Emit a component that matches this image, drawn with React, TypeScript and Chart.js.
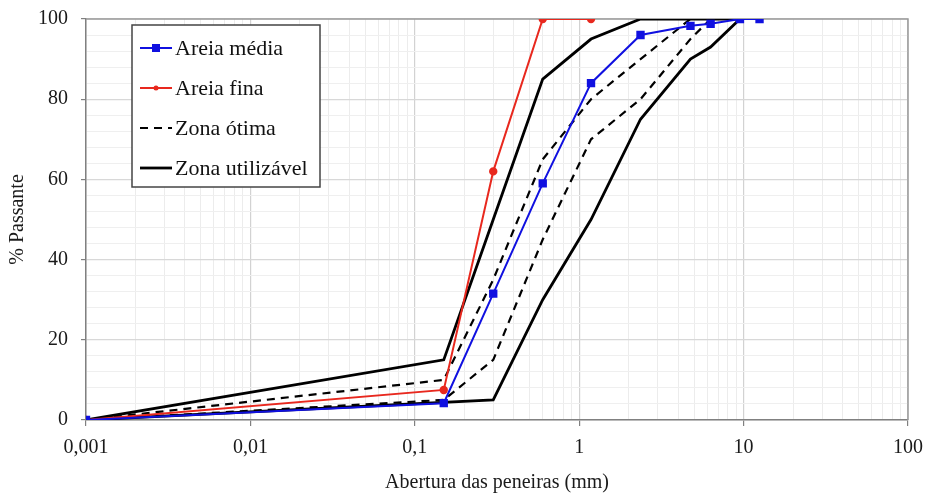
import React, { useEffect, useRef } from "react";
import { Chart, registerables } from "chart.js";

Chart.register(...registerables);

// ---- data ----
const mediaSieves = [0.001, 0.15, 0.3, 0.6, 1.18, 2.36, 4.75, 6.3, 9.5, 12.5];
const mediaPassing = [0, 4.2, 31.5, 59, 84, 96, 98.3, 98.8, 100, 100];

const finaSieves = [0.001, 0.15, 0.3, 0.6, 1.18];
const finaPassing = [0, 7.5, 62, 100, 100];

const zoneSieves = [0.001, 0.15, 0.3, 0.6, 1.18, 2.36, 4.75, 6.3, 9.5];
const otimaUpper = [0, 10, 35, 65, 80, 90, 100, 100, 100];
const otimaLower = [0, 5, 15, 45, 70, 80, 95, 100, 100];
const utilUpper = [0, 15, 50, 85, 95, 100, 100, 100, 100];
const utilLowerSieves = [0.001, 0.3, 0.6, 1.18, 2.36, 4.75, 6.3, 9.5];
const utilLower = [0, 5, 30, 50, 75, 90, 93, 100];

const xTickValues = [0.001, 0.01, 0.1, 1, 10, 100];
const xTickLabels = ["0,001", "0,01", "0,1", "1", "10", "100"];
const yMajorTicks = [0, 20, 40, 60, 80, 100];

const legendLabels = ["Areia média", "Areia fina", "Zona ótima", "Zona utilizável"];

const FONT = "'Liberation Serif', 'Times New Roman', serif";

const pts = (xs: number[], ys: number[]) => xs.map((x, i) => ({ x, y: ys[i] }));

const isMajorX = (v: number) => xTickValues.some((t) => Math.abs(v - t) / t < 1e-9);

const frameAndLegend = {
  id: "frameAndLegend",
  beforeDatasetsDraw(chart: any) {
    const { ctx, chartArea } = chart;
    ctx.save();
    ctx.strokeStyle = "#9a9a9a";
    ctx.lineWidth = 1.5;
    ctx.beginPath();
    ctx.moveTo(chartArea.left, chartArea.top);
    ctx.lineTo(chartArea.right, chartArea.top);
    ctx.lineTo(chartArea.right, chartArea.bottom);
    ctx.stroke();
    ctx.restore();
  },
  afterDatasetsDraw(chart: any) {
    const { ctx, chartArea } = chart;
    const bx = chartArea.left + 46;
    const by = chartArea.top + 6;
    const bw = 188;
    const bh = 162;
    ctx.save();
    ctx.fillStyle = "#ffffff";
    ctx.fillRect(bx, by, bw, bh);
    ctx.strokeStyle = "#444444";
    ctx.lineWidth = 1.5;
    ctx.strokeRect(bx, by, bw, bh);
    const items = chart.data.datasets;
    const order = [0, 1, 2, 4];
    ctx.font = `22px ${FONT}`;
    ctx.textBaseline = "middle";
    order.forEach((di: number, i: number) => {
      const ds = items[di];
      const cy = by + 23 + i * 40;
      const x0 = bx + 8;
      const x1 = bx + 40;
      ctx.save();
      ctx.strokeStyle = ds.borderColor;
      ctx.lineWidth = ds.borderWidth;
      ctx.setLineDash(ds.borderDash || []);
      ctx.beginPath();
      ctx.moveTo(x0, cy);
      ctx.lineTo(x1, cy);
      ctx.stroke();
      ctx.restore();
      const mx = (x0 + x1) / 2;
      if (ds.pointStyle === "rect" && ds.pointRadius > 0) {
        ctx.fillStyle = ds.pointBackgroundColor;
        ctx.fillRect(mx - 4, cy - 4, 8, 8);
      } else if (ds.pointRadius > 0) {
        ctx.fillStyle = ds.pointBackgroundColor;
        ctx.beginPath();
        ctx.arc(mx, cy, 2.5, 0, Math.PI * 2);
        ctx.fill();
      }
      ctx.fillStyle = "#111111";
      ctx.fillText(legendLabels[i], x1 + 3, cy + 1);
    });
    ctx.restore();
  },
};

export default function App() {
  const ref = useRef<HTMLCanvasElement | null>(null);

  useEffect(() => {
    if (!ref.current) return;
    const blackLine = (data: any[], dashed: boolean) => ({
      data,
      borderColor: "#000000",
      backgroundColor: "#000000",
      borderWidth: dashed ? 2.2 : 2.8,
      borderDash: dashed ? [8, 6] : [],
      pointRadius: 0,
      pointHoverRadius: 0,
      tension: 0,
      fill: false,
    });

    const chart = new Chart(ref.current, {
      type: "line",
      data: {
        datasets: [
          {
            label: legendLabels[0],
            data: pts(mediaSieves, mediaPassing),
            borderColor: "#1010e0",
            backgroundColor: "#1010e0",
            pointBackgroundColor: "#1010e0",
            pointBorderColor: "#1010e0",
            pointStyle: "rect",
            pointRadius: 4.5,
            borderWidth: 2,
            order: 0,
          } as any,
          {
            label: legendLabels[1],
            data: pts(finaSieves, finaPassing),
            borderColor: "#e8281e",
            backgroundColor: "#e8281e",
            pointBackgroundColor: "#e8281e",
            pointBorderColor: "#e8281e",
            pointStyle: "circle",
            pointRadius: 3.2,
            borderWidth: 2,
            order: 1,
          } as any,
          { label: legendLabels[2], ...blackLine(pts(zoneSieves, otimaUpper), true), order: 2 },
          { label: legendLabels[2] + " inf", ...blackLine(pts(zoneSieves, otimaLower), true), order: 3 },
          { label: legendLabels[3], ...blackLine(pts(zoneSieves, utilUpper), false), order: 4 },
          { label: legendLabels[3] + " inf", ...blackLine(pts(utilLowerSieves, utilLower), false), order: 5 },
        ],
      },
      options: {
        responsive: false,
        animation: false,
        layout: { padding: { top: 19, right: 20, left: 0, bottom: 0 } },
        plugins: {
          legend: { display: false },
          tooltip: { enabled: false },
        },
        scales: {
          x: {
            type: "logarithmic",
            min: 0.001,
            max: 100,
            afterFit: (s: any) => {
              s.height = 75;
              s.paddingLeft = 0;
              s.paddingRight = 0;
            },
            afterBuildTicks: (s: any) => {
              const t: any[] = [];
              for (let e = -3; e <= 2; e++) {
                for (let m = 1; m <= 9; m++) {
                  const v = Number((m * Math.pow(10, e)).toPrecision(12));
                  if (v > 100) break;
                  t.push({ value: v });
                  if (e === 2) break;
                }
              }
              s.ticks = t;
            },
            ticks: {
              autoSkip: false,
              maxRotation: 0,
              padding: 10,
              color: "#1a1a1a",
              font: { family: FONT, size: 20 },
              callback: (v: any) => {
                const i = xTickValues.findIndex((t) => Math.abs(Number(v) - t) / t < 1e-9);
                return i >= 0 ? xTickLabels[i] : "";
              },
            },
            grid: {
              color: (c: any) => (c.tick && isMajorX(c.tick.value) ? "#d2d2d2" : "#ececec"),
              lineWidth: (c: any) => (c.tick && isMajorX(c.tick.value) ? 1.2 : 1),
              tickColor: (c: any) => (c.tick && isMajorX(c.tick.value) ? "#808080" : "rgba(0,0,0,0)"),
              tickLength: 6,
              drawTicks: true,
            },
            border: { display: true, color: "#808080", width: 1.5 },
            title: {
              display: true,
              text: "Abertura das peneiras (mm)",
              color: "#1a1a1a",
              font: { family: FONT, size: 20, lineHeight: 1.2 },
              padding: { top: 0, bottom: 0 },
            },
          },
          y: {
            min: 0,
            max: 100,
            afterFit: (s: any) => {
              s.width = 86;
              s.paddingTop = 0;
              s.paddingBottom = 0;
            },
            ticks: {
              stepSize: 4,
              autoSkip: false,
              padding: 13,
              color: "#1a1a1a",
              font: { family: FONT, size: 20 },
              callback: (v: any) => (yMajorTicks.includes(Number(v)) ? String(v) : ""),
            },
            grid: {
              color: (c: any) => (c.tick && yMajorTicks.includes(c.tick.value) ? "#d8d8d8" : "#efefef"),
              lineWidth: (c: any) => (c.tick && yMajorTicks.includes(c.tick.value) ? 1.2 : 1),
              tickColor: (c: any) => (c.tick && yMajorTicks.includes(c.tick.value) ? "#808080" : "rgba(0,0,0,0)"),
              tickLength: 5,
            },
            border: { display: true, color: "#808080", width: 1.5 },
            title: {
              display: true,
              text: "% Passante",
              color: "#1a1a1a",
              font: { family: FONT, size: 20, lineHeight: 1.2 },
              padding: { top: 6, bottom: 0 },
            },
          },
        },
      } as any,
      plugins: [frameAndLegend],
    });
    return () => chart.destroy();
  }, []);

  return (
    <div style={{ position: "fixed", left: 0, top: 0, width: 928, height: 495, background: "#fff" }}>
      <canvas ref={ref} width={928} height={495} style={{ display: "block" }} />
    </div>
  );
}
